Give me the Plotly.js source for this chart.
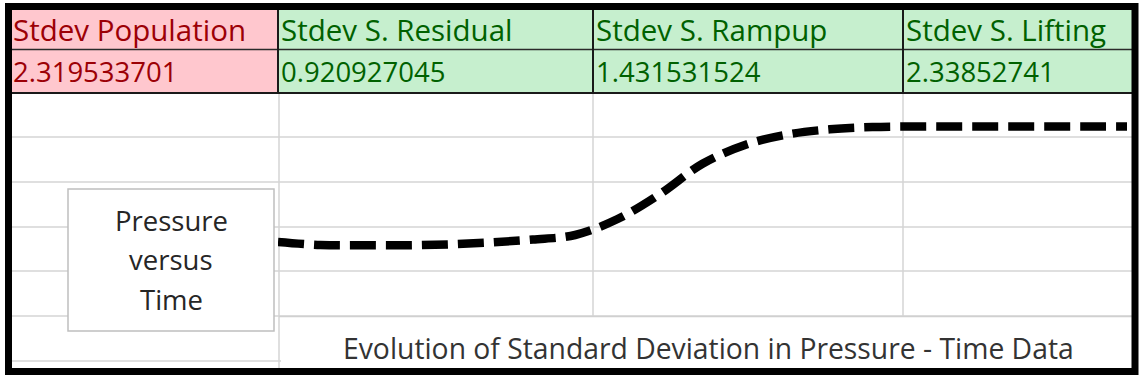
<!DOCTYPE html>
<html><head><meta charset="utf-8">
<script src="https://cdn.plot.ly/plotly-3.0.1.min.js"></script>
<style>html,body{margin:0;padding:0;background:#fff;overflow:hidden}#chart{width:1142px;height:375px}</style>
</head><body><div id="chart"></div>
<script>
// ---- data ----
const headers = ["Stdev Population", "Stdev S. Residual", "Stdev S. Rampup", "Stdev S. Lifting"];
const headerValues = ["2.319533701", "0.920927045", "1.431531524", "2.33852741"];
const headerStyles = ["bad", "good", "good", "good"];
const timePct = [0, 5, 10, 15, 20, 25, 30, 35, 40, 45, 50, 55, 60, 65, 70, 75, 80, 85, 90, 95, 100];
const stdevLevel = [0.945, 0.909, 0.905, 0.905, 0.915, 0.939, 0.975, 1.029, 1.221, 1.522, 1.886, 2.112, 2.238, 2.301, 2.328, 2.335, 2.335, 2.335, 2.335, 2.335, 2.335];
const chartTitle = "Evolution of Standard Deviation in Pressure - Time Data";
const boxLabelLines = ["Pressure", "versus", "Time"];

// ---- layout helpers ----
const W = 1142, H = 375;
const px = x => x / W;
const py = y => 1 - y / H;
const FONT = "Open Sans, Noto Sans, sans-serif";
const styles = {
  bad: {fill: "#FFC7CE", text: "#9C0006"},
  good: {fill: "#C6EFCE", text: "#006100"}
};
const colEdges = [10, 278, 593, 903, 1133];
const rowHeaderTop = 10, rowMid = 49.5, rowBottom = 93;
const gridRows = [137, 182, 227, 271, 316, 361];
const gridCols = [279, 593, 903];

const shapes = [];
function line(x0, y0, x1, y1, color, width) {
  shapes.push({type: "line", xref: "paper", yref: "paper", x0: px(x0), y0: py(y0), x1: px(x1), y1: py(y1),
    line: {color: color, width: width}, layer: "below"});
}
function rect(x0, y0, x1, y1, fill, lineColor, lineWidth) {
  shapes.push({type: "rect", xref: "paper", yref: "paper", x0: px(x0), y0: py(y0), x1: px(x1), y1: py(y1),
    fillcolor: fill, line: {color: lineColor || "rgba(0,0,0,0)", width: lineWidth || 0}, layer: "below"});
}

// sheet gridlines
gridRows.forEach(y => line(10, y, 1133, y, "#D4D4D4", 1.5));
gridCols.forEach(x => line(x, rowBottom, x, 370, "#D4D4D4", 1.5));

// table cells
headers.forEach((h, i) => {
  const st = styles[headerStyles[i]];
  rect(colEdges[i], rowHeaderTop, colEdges[i + 1], rowBottom, st.fill);
});
line(10, rowMid, 1133, rowMid, "#2a2a2a", 1.5);
line(10, rowBottom, 1133, rowBottom, "#1a1a1a", 2);
colEdges.slice(1, 4).forEach(x => line(x, rowHeaderTop, x, rowBottom, "#1a1a1a", 2));

// chart title box
rect(281, 317, 1132, 368, "#FFFFFF");
line(279, 316.5, 1133, 316.5, "#D0D0D0", 1.5);

// label box
rect(68, 189, 274, 331, "#FFFFFF", "#BFBFBF", 1.5);

// outer thick border
shapes.push({type: "rect", xref: "paper", yref: "paper", x0: px(8.5), y0: py(6.5), x1: px(1135), y1: py(371.5),
  line: {color: "#000000", width: 7}, fillcolor: "rgba(0,0,0,0)", layer: "above"});

// annotations
const annotations = [];
headers.forEach((h, i) => {
  const st = styles[headerStyles[i]];
  annotations.push({text: h, xref: "paper", yref: "paper", x: px(colEdges[i] + 1), y: py(29.5),
    xanchor: "left", yanchor: "middle", showarrow: false, font: {family: FONT, size: 29.5, color: st.text}});
  annotations.push({text: headerValues[i], xref: "paper", yref: "paper", x: px(colEdges[i] + 1), y: py(71.5),
    xanchor: "left", yanchor: "middle", showarrow: false, font: {family: FONT, size: 27.5, color: st.text}});
});
const labelYs = [220, 259, 299];
boxLabelLines.forEach((t, i) => {
  annotations.push({text: t, xref: "paper", yref: "paper", x: px(171), y: py(labelYs[i]),
    xanchor: "center", yanchor: "middle", showarrow: false, font: {family: FONT, size: 27.5, color: "#262626"}});
});
annotations.push({text: chartTitle, xref: "paper", yref: "paper", x: px(708), y: py(347.5),
  xanchor: "center", yanchor: "middle", showarrow: false, font: {family: FONT, size: 28.3, color: "#333333"}});

const trace = {
  x: timePct, y: stdevLevel, type: "scatter", mode: "lines",
  line: {color: "#000000", width: 8.5, dash: "26px,10px", shape: "spline", smoothing: 1},
  hoverinfo: "skip", showlegend: false
};

const layout = {
  width: W, height: H,
  margin: {l: 0, r: 0, t: 0, b: 0},
  paper_bgcolor: "#FFFFFF", plot_bgcolor: "rgba(0,0,0,0)",
  xaxis: {domain: [px(278), px(1127)], range: [0, 100], visible: false, fixedrange: true},
  yaxis: {domain: [py(317), py(93)], range: [(320.5 - 317) / 83.1, (320.5 - 93) / 83.1], visible: false, fixedrange: true},
  shapes: shapes, annotations: annotations, showlegend: false
};
Plotly.newPlot("chart", [trace], layout, {staticPlot: true, displayModeBar: false});
</script>
</body></html>
